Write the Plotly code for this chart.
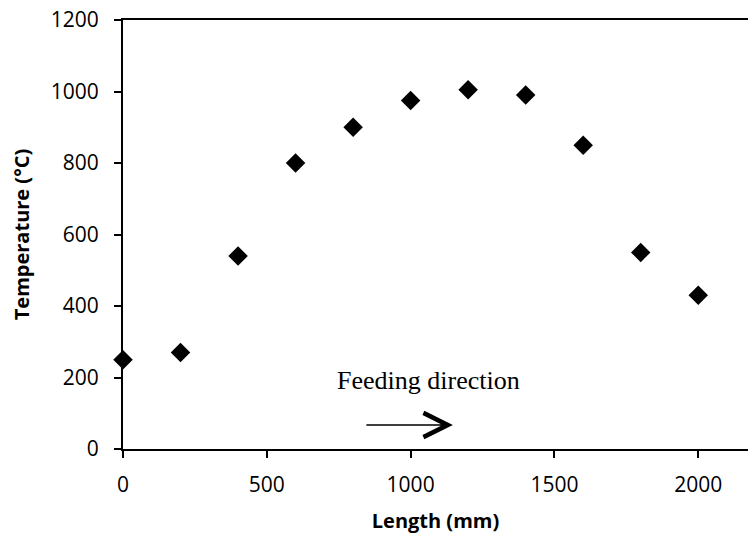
import plotly.graph_objects as go

length_mm = [0, 200, 400, 600, 800, 1000, 1200, 1400, 1600, 1800, 2000]
temperature_c = [250, 270, 540, 800, 900, 975, 1005, 990, 850, 550, 430]

x_ticks = [0, 500, 1000, 1500, 2000]
y_ticks = [0, 200, 400, 600, 800, 1000, 1200]

fig = go.Figure()
fig.add_trace(go.Scatter(
    x=length_mm, y=temperature_c, mode="markers",
    marker=dict(symbol="diamond", size=15, color="black", line=dict(width=0)),
    showlegend=False, cliponaxis=False,
))

tick_font = dict(family="Open Sans", size=21, color="black")
title_font = dict(family="Open Sans", size=20, color="black")

fig.update_layout(
    width=748, height=541,
    margin=dict(l=123.3, r=0, t=20, b=92, autoexpand=False),
    plot_bgcolor="white", paper_bgcolor="white",
    xaxis=dict(
        range=[0, 2173], tickvals=x_ticks, ticks="outside", ticklen=7,
        tickwidth=1.5, tickcolor="black", showline=True, linecolor="black",
        linewidth=2, mirror=True, showgrid=False, zeroline=False,
        tickfont=tick_font, ticklabelstandoff=9, automargin=False,
        title=dict(text="<b>Length (mm)</b>", font=title_font, standoff=17),
    ),
    yaxis=dict(
        range=[0, 1200], tickvals=y_ticks, ticks="outside", ticklen=7,
        tickwidth=1.5, tickcolor="black", showline=True, linecolor="black",
        linewidth=2, showgrid=False, zeroline=False,
        tickfont=tick_font, ticklabelstandoff=11, automargin=False,
        title=dict(text="<b>Temperature (°C)</b>", font=title_font, standoff=16),
    ),
)

fig.add_annotation(
    x=1063, y=193, xref="x", yref="y", text="Feeding direction",
    showarrow=False, font=dict(family="Liberation Serif", size=26, color="black"),
)
fig.add_annotation(
    x=1147, y=67, ax=841, ay=67, xref="x", yref="y", axref="x", ayref="y",
    text="", showarrow=True, arrowhead=5, arrowsize=3.4, arrowwidth=1.4,
    arrowcolor="black", standoff=0,
)

fig.write_html(
    "out.html",
    config={"displayModeBar": False},
    post_script="document.body.style.margin='0';document.body.style.overflow='hidden';",
)
